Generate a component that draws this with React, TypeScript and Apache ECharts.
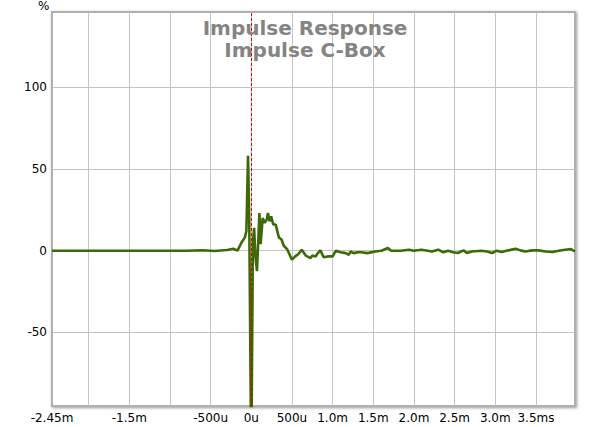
import { useEffect, useRef } from 'react'
import * as echarts from 'echarts'

// Impulse response, time in ms, amplitude in %
const timeMs = [
  -2.45, -0.8, -0.6, -0.45, -0.3, -0.22, -0.17, -0.12, -0.08, -0.06, -0.04, -0.025,
  0.0, 0.02, 0.035, 0.05, 0.07, 0.085, 0.1, 0.115, 0.14, 0.165, 0.19, 0.205,
  0.225, 0.245, 0.27, 0.3, 0.32, 0.34, 0.37, 0.4, 0.44, 0.5, 0.54, 0.58,
  0.62, 0.67, 0.73, 0.75, 0.79, 0.81, 0.85, 0.89, 0.94, 1.0, 1.04, 1.1,
  1.16, 1.2, 1.22, 1.26, 1.31, 1.35, 1.43, 1.52, 1.6, 1.65, 1.68, 1.72,
  1.84, 1.94, 2.0, 2.09, 2.17, 2.22, 2.3, 2.36, 2.42, 2.48, 2.54, 2.61,
  2.65, 2.71, 2.83, 2.9, 2.96, 3.02, 3.08, 3.16, 3.25, 3.31, 3.37, 3.45,
  3.53, 3.62, 3.7, 3.78, 3.86, 3.93, 3.98
]
const percent = [
  0, 0, 0.3, -0.2, 0.4, 1.2, 0, 5, 8, 12, 58, 20,
  -130, 5, 14, -3, -12.5, 5, 23, 4, 20, 17, 19, 23,
  18, 21, 16, 16, 12, 8, 7, 3, 1, -5.5, -3.5, -2,
  0.6, -3, -4.5, -3, -3.5, -2, 0.2, -4, -3.5, -3.5, 0, -1,
  -1.5, -2.5, -0.5, -1.5, -1, -1, -1.5, -0.5, 0, 1, 1.6, 0,
  0, 0.6, 0, 0.6, 0, -0.5, 0.6, -1, 0, -1, -1.4, 0.2,
  -1.4, -0.5, 0, -0.5, -1.4, 0, -0.8, 0.2, 1.2, 0.2, -0.5, 0.2,
  0.2, -0.5, -0.8, 0, 0.6, 1, -0.5
]

const xGridTicks = [-2, -1.5, -1, -0.5, 0, 0.5, 1, 1.5, 2, 2.5, 3, 3.5]
const xLabelValues = [-2.45, -1.5, -0.5, 0, 0.5, 1, 1.5, 2, 2.5, 3, 3.5]
const xLabelTexts = ['-2.45m', '-1.5m', '-500u', '0u', '500u', '1.0m', '1.5m', '2.0m', '2.5m', '3.0m', '3.5ms']
const yTicks = [-50, 0, 50, 100]

const font = '"DejaVu Sans", Verdana, sans-serif'

export default function App(): JSX.Element {
  const chartRef = useRef<HTMLDivElement>(null)

  useEffect(() => {
    if (!chartRef.current) return
    document.body.style.margin = '0'
    const chart = echarts.init(chartRef.current, null, { renderer: 'svg' })

    const option: echarts.EChartsOption = {
      animation: false,
      backgroundColor: '#ffffff',
      title: {
        text: 'Impulse Response\nImpulse C-Box',
        left: 300,
        top: 12,
        textAlign: 'center',
        textStyle: {
          fontFamily: font,
          fontSize: 20,
          fontWeight: 'bold',
          color: '#848484',
          lineHeight: 22
        }
      },
      grid: {
        left: 52,
        right: 25,
        top: 12,
        bottom: 21,
        show: true,
        backgroundColor: '#ffffff',
        borderColor: '#b0b0b0',
        borderWidth: 2,
        shadowColor: 'rgba(0,0,0,0.4)',
        shadowBlur: 3,
        shadowOffsetX: 1,
        shadowOffsetY: 1
      },
      graphic: [
        {
          type: 'text',
          left: 38,
          top: 0,
          style: { text: '%', font: `12px ${font}`, fill: '#000' }
        }
      ],
      xAxis: {
        type: 'value',
        min: -2.45,
        max: 3.98,
        axisLine: { show: false },
        axisTick: { show: false, customValues: xGridTicks },
        splitLine: { show: true, lineStyle: { color: '#c4c4c4', width: 1 } },
        axisLabel: {
          customValues: xLabelValues,
          color: '#000',
          fontFamily: font,
          fontSize: 12,
          margin: 6,
          formatter: (v: number) => {
            const i = xLabelValues.findIndex((x) => Math.abs(x - v) < 1e-6)
            return i >= 0 ? xLabelTexts[i] : ''
          }
        }
      },
      yAxis: {
        type: 'value',
        min: -95,
        max: 146,
        axisLine: { show: false },
        axisTick: { show: false, customValues: yTicks },
        splitLine: { show: true, lineStyle: { color: '#c4c4c4', width: 1 } },
        axisLabel: {
          customValues: yTicks,
          color: '#000',
          fontFamily: font,
          fontSize: 12,
          margin: 5
        }
      },
      series: [
        {
          type: 'line',
          data: timeMs.map((t, i) => [t, percent[i]]),
          showSymbol: false,
          clip: true,
          lineStyle: { color: '#3b6a07', width: 2.6 },
          markLine: {
            silent: true,
            symbol: 'none',
            label: { show: false },
            lineStyle: { color: '#dd0000', type: [3, 2], width: 1 },
            data: [{ xAxis: 0 }]
          }
        }
      ]
    }

    chart.setOption(option)
    return () => {
      chart.dispose()
    }
  }, [])

  return <div ref={chartRef} style={{ width: 600, height: 427 }} />
}
